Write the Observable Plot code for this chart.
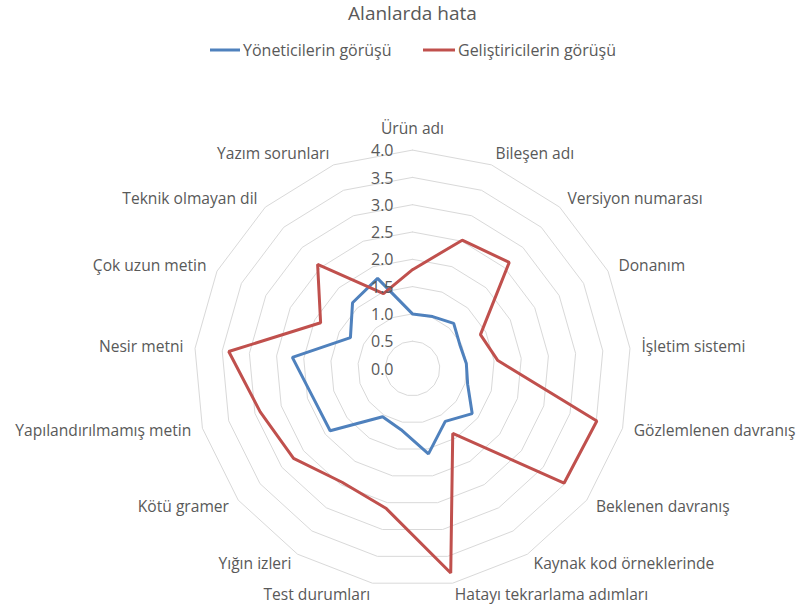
<!DOCTYPE html>
<html>
<head>
<meta charset="utf-8">
<script src="https://cdn.jsdelivr.net/npm/d3@7"></script>
<script src="https://cdn.jsdelivr.net/npm/@observablehq/plot@0.6"></script>
<style>
  body { margin: 0; background: #fff; font-family: "Open Sans", Lato, sans-serif; color: #595959; overflow: hidden; }
  #hdr { position: relative; width: 801px; height: 70px; }
  #title { position: absolute; top: 0px; left: 12px; width: 801px; text-align: center; font-size: 19px; }
  .leg { position: absolute; top: 39px; font-size: 16px; display: flex; align-items: center; white-space: nowrap; }
  .leg svg { margin-right: 3px; }
  #chart svg { display: block; }
</style>
</head>
<body>
<div id="hdr">
  <div id="title">Alanlarda hata</div>
  <div class="leg" style="left:210px"><svg width="30" height="20"><line x1="0" x2="30" y1="10" y2="10" stroke="#4F81BD" stroke-width="3"/></svg>Yöneticilerin görüşü</div>
  <div class="leg" style="left:423px"><svg width="32" height="20"><line x1="0" x2="32" y1="10" y2="10" stroke="#C0504D" stroke-width="3"/></svg>Geliştiricilerin görüşü</div>
</div>
<div id="chart"></div>
<script>
const categories = [
  "Ürün adı", "Bileşen adı", "Versiyon numarası", "Donanım", "İşletim sistemi",
  "Gözlemlenen davranış", "Beklenen davranış", "Kaynak kod örneklerinde",
  "Hatayı tekrarlama adımları", "Test durumları", "Yığın izleri", "Kötü gramer",
  "Yapılandırılmamış metin", "Nesir metni", "Çok uzun metin", "Teknik olmayan dil",
  "Yazım sorunları"
];
const managers   = [1.00, 1.02, 1.12, 0.97, 0.99, 1.05, 1.37, 1.14, 1.59, 1.14, 1.04, 1.89, 1.90, 2.21, 1.27, 1.63, 1.77];
const developers = [1.81, 2.52, 2.63, 1.39, 1.57, 3.51, 3.48, 1.40, 3.81, 2.61, 2.45, 2.73, 2.90, 3.38, 1.88, 2.58, 1.47];
const seriesNames = ["Yöneticilerin görüşü", "Geliştiricilerin görüşü"];
const seriesColors = ["#4F81BD", "#C0504D"];
const tickValues = [0, 0.5, 1, 1.5, 2, 2.5, 3, 3.5, 4];
const tickLabels = ["0.0", "0.5", "1.0", "1.5", "2.0", "2.5", "3.0", "3.5", "4.0"];

const n = categories.length;
const ang = i => (i % n) * 2 * Math.PI / n;
const W = 801, H = 537, cx = 412, cy = 298, k = 54.6;

const rings = [];
tickValues.filter(v => v > 0).forEach(v => {
  for (let i = 0; i <= n; i++) rings.push({level: v, x: v * Math.sin(ang(i)), y: v * Math.cos(ang(i))});
});
const seriesPts = [];
[managers, developers].forEach((arr, s) => {
  for (let i = 0; i <= n; i++) {
    const v = arr[i % n];
    seriesPts.push({series: seriesNames[s], x: v * Math.sin(ang(i)), y: v * Math.cos(ang(i))});
  }
});
const LR = 230 / k;
const labels = categories.map((c, i) => {
  const s = Math.sin(ang(i));
  return {text: c, x: LR * Math.sin(ang(i)), y: LR * Math.cos(ang(i)),
          anchor: Math.abs(s) < 0.05 ? "middle" : (s > 0 ? "start" : "end")};
});
const ticks = tickValues.map((v, i) => ({v, label: tickLabels[i]}));

const font = "'Open Sans', Lato, sans-serif";
const fs = 15.6;
const chart = Plot.plot({
  width: W, height: H,
  margin: 0,
  x: {domain: [-cx / k, (W - cx) / k], range: [0, W], axis: null},
  y: {domain: [-(H - cy) / k, cy / k], range: [H, 0], axis: null},
  color: {domain: seriesNames, range: seriesColors},
  style: {fontFamily: font, color: "#595959", background: "white", overflow: "hidden"},
  marks: [
    Plot.line(rings, {x: "x", y: "y", z: "level", stroke: "#D9D9D9", strokeWidth: 1}),
    Plot.line(seriesPts, {x: "x", y: "y", z: "series", stroke: "series", strokeWidth: 3, strokeLinejoin: "miter"}),
    Plot.text(ticks, {x: () => 0, y: "v", text: "label", textAnchor: "end", dx: -19, dy: 1, fontSize: 16, fill: "#595959"}),
    Plot.text(labels.filter(d => d.anchor === "start"), {x: "x", y: "y", text: "text", textAnchor: "start", fontSize: fs, fill: "#595959"}),
    Plot.text(labels.filter(d => d.anchor === "end"), {x: "x", y: "y", text: "text", textAnchor: "end", fontSize: fs, fill: "#595959"}),
    Plot.text(labels.filter(d => d.anchor === "middle"), {x: "x", y: "y", text: "text", textAnchor: "middle", lineAnchor: "bottom", dy: -5, fontSize: fs, fill: "#595959"})
  ]
});
document.getElementById("chart").appendChild(chart);
</script>
</body>
</html>
